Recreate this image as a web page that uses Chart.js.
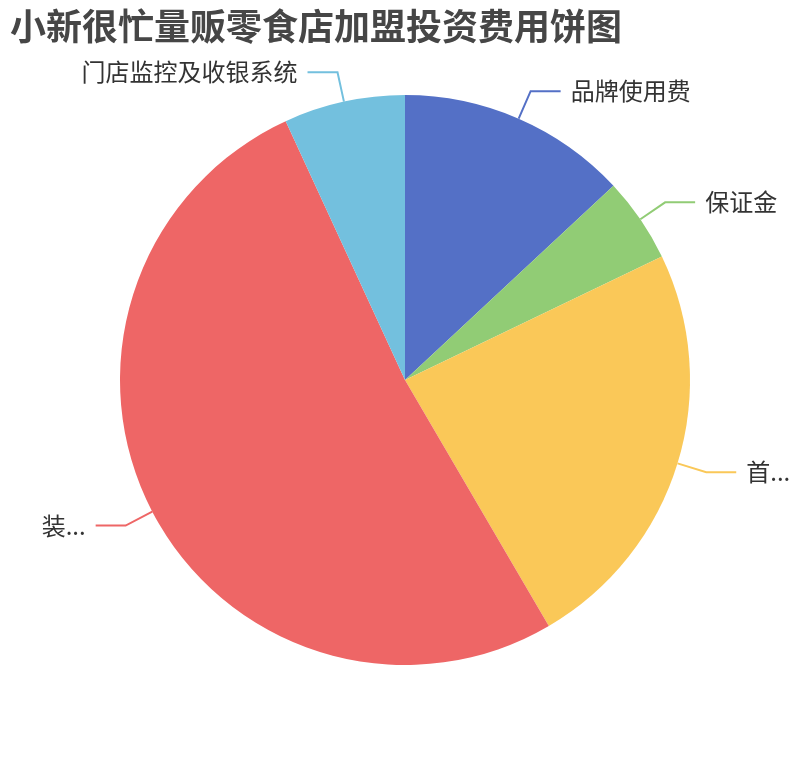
<!DOCTYPE html>
<html>
<head>
<meta charset="utf-8">
<script src="https://cdn.jsdelivr.net/npm/chart.js@4.4.0/dist/chart.umd.min.js"></script>
<style>
  html, body { margin: 0; padding: 0; background: #ffffff; }
  #wrap { position: relative; width: 810px; height: 760px; }
  #title {
    position: absolute; left: 10px; top: 2px; margin: 0;
    font-family: "Noto Sans CJK SC", sans-serif; font-weight: bold;
    font-size: 36px; line-height: 44px; color: #464646; white-space: nowrap;
  }
  canvas { position: absolute; left: 0; top: 0; }
</style>
</head>
<body>
<div id="wrap">
  <canvas id="c" width="810" height="760"></canvas>
  <h1 id="title">小新很忙量贩零食店加盟投资费用饼图</h1>
</div>
<script>
const categories = ["品牌使用费", "保证金", "首...", "装...", "门店监控及收银系统"];
const values = [3.8, 1.4, 6.9, 15, 2];
const colors = ["#5470c6", "#91cc75", "#fac858", "#ee6666", "#73c0de"];

const outsideLabels = {
  id: "outsideLabels",
  afterDatasetsDraw(chart) {
    const ctx = chart.ctx;
    const meta = chart.getDatasetMeta(0);
    ctx.save();
    ctx.font = '24px "Noto Sans CJK SC", sans-serif';
    ctx.textBaseline = "middle";
    meta.data.forEach((arc, i) => {
      const p = arc.getProps(["x", "y", "startAngle", "endAngle", "outerRadius"], true);
      const mid = (p.startAngle + p.endAngle) / 2;
      const cos = Math.cos(mid), sin = Math.sin(mid);
      const x0 = p.x + cos * p.outerRadius, y0 = p.y + sin * p.outerRadius;
      const x1 = p.x + cos * (p.outerRadius + 30), y1 = p.y + sin * (p.outerRadius + 30);
      const dir = cos >= 0 ? 1 : -1;
      const x2 = x1 + dir * 30;
      ctx.strokeStyle = colors[i];
      ctx.lineWidth = 2;
      ctx.beginPath();
      ctx.moveTo(x0, y0);
      ctx.lineTo(x1, y1);
      ctx.lineTo(x2, y1);
      ctx.stroke();
      ctx.fillStyle = "#333333";
      ctx.textAlign = dir > 0 ? "left" : "right";
      ctx.fillText(categories[i], x2 + dir * 10, y1);
    });
    ctx.restore();
  }
};

new Chart(document.getElementById("c"), {
  type: "pie",
  data: {
    labels: categories,
    datasets: [{
      data: values,
      backgroundColor: colors,
      borderWidth: 0,
      hoverOffset: 0
    }]
  },
  options: {
    responsive: false,
    animation: false,
    layout: { padding: { left: 120, right: 120, top: 95, bottom: 95 } },
    plugins: {
      legend: { display: false },
      title: { display: false },
      tooltip: { enabled: false }
    }
  },
  plugins: [outsideLabels]
});
</script>
</body>
</html>
